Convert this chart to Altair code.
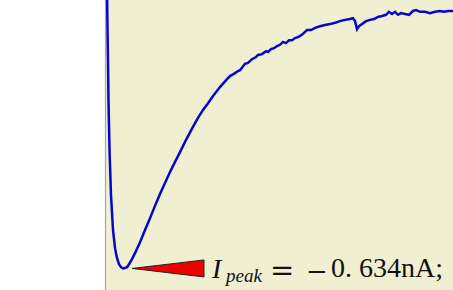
import altair as alt
import pandas as pd

# Time (ms) and current (nA)
time_ms = [0.29, 0.36, 0.43, 0.50, 0.65, 0.86, 1.15, 1.44, 1.72, 2.01, 2.30, 2.59,
           2.87, 3.16, 3.45, 3.88, 4.45, 5.03, 5.75, 6.47, 7.18, 7.90, 8.62, 9.34,
           10.06, 10.78, 11.64, 12.64, 13.36, 14.08, 14.80, 15.52, 16.52, 17.53,
           17.96, 18.68, 19.11, 19.40, 20.11, 20.55, 21.12, 21.70, 21.98, 22.56,
           23.13, 23.42, 23.85, 24.28, 24.71, 25.14, 25.57, 26.01, 26.44, 26.87,
           27.30, 27.73, 28.02, 28.45, 29.02, 29.60, 30.17, 30.89, 31.61, 32.33,
           33.05, 33.76, 34.48, 35.20, 35.63, 35.92, 36.21, 36.49, 36.93, 37.50,
           38.07, 38.65, 39.22, 39.80, 40.37, 40.80, 41.24, 41.67, 42.10, 42.53,
           43.10, 43.68, 44.25, 44.68, 45.26, 45.98, 46.70, 47.41, 48.13, 48.71,
           49.28, 50.00]
current_nA = [0.024, -0.071, -0.142, -0.237, -0.355, -0.461, -0.544, -0.587, -0.610, -0.625,
              -0.632, -0.635, -0.634, -0.632, -0.625, -0.613, -0.594, -0.573, -0.544, -0.516,
              -0.487, -0.459, -0.433, -0.407, -0.383, -0.360, -0.331, -0.300, -0.279, -0.260,
              -0.244, -0.227, -0.206, -0.187,
              -0.180, -0.173, -0.168, -0.166, -0.151, -0.149, -0.140, -0.135, -0.130, -0.128,
              -0.121, -0.123, -0.116, -0.114, -0.109, -0.106, -0.099, -0.102, -0.095, -0.095,
              -0.090, -0.088, -0.085, -0.080, -0.071, -0.071, -0.066, -0.062, -0.059, -0.057,
              -0.054, -0.050, -0.047, -0.045, -0.043, -0.050, -0.069, -0.062, -0.057, -0.050,
              -0.047, -0.045, -0.040, -0.038, -0.035, -0.028, -0.033, -0.028, -0.035, -0.031,
              -0.033, -0.035, -0.026, -0.024, -0.028, -0.028, -0.031, -0.028, -0.026, -0.028,
              -0.026, -0.026]

peak_t = 2.59
peak_nA = -0.634
label_parts = ["I", "peak", "=", "\u2212", "0. 634nA;"]

x_scale = alt.Scale(domain=[0, 50], nice=False, zero=False)
y_scale = alt.Scale(domain=[-0.686, 0], nice=False, zero=False)

df = pd.DataFrame({"t": time_ms, "i": current_nA})

line = alt.Chart(df).mark_line(color="#0505cc", strokeWidth=2.5, clip=True).encode(
    x=alt.X("t:Q", scale=x_scale, axis=None),
    y=alt.Y("i:Q", scale=y_scale, axis=None),
)

tri_df = pd.DataFrame({
    "t": [peak_t + 1.29, peak_t + 11.63],
    "lo": [peak_nA - 0.001, peak_nA - 0.0211],
    "hi": [peak_nA - 0.001, peak_nA + 0.0191],
})
triangle = alt.Chart(tri_df).mark_area(color="#ee0000", stroke="#222222", strokeWidth=1,
                                       interpolate="linear").encode(
    x=alt.X("t:Q", scale=x_scale, axis=None),
    y=alt.Y("lo:Q", scale=y_scale, axis=None),
    y2="hi:Q",
)

border = alt.Chart(pd.DataFrame({"a": [0]})).mark_rule(color="#a8a8a0", strokeWidth=1.2).encode(
    x=alt.value(0.5), y=alt.value(0), y2=alt.value(290)
)

def txt(s, x, y, size, font, style="normal"):
    return alt.Chart(pd.DataFrame({"s": [s]})).mark_text(
        align="left", baseline="alphabetic", font=font, fontSize=size,
        fontStyle=style, color="#111111"
    ).encode(text="s:N", x=alt.value(x), y=alt.value(y))

texts = [
    txt(label_parts[0], 107, 278, 28, "Liberation Serif", "italic"),
    txt(label_parts[1], 121, 282, 19, "Liberation Serif", "italic"),
    txt(label_parts[2], 165, 280, 29, "DejaVu Serif"),
    txt(label_parts[3], 201, 280, 26, "DejaVu Serif"),
    txt(label_parts[4], 226, 277, 28, "Liberation Serif"),
]

chart = alt.layer(border, line, triangle, *texts).properties(
    width=348, height=290,
    padding={"left": 105, "top": 0, "right": 0, "bottom": 0},
    autosize=alt.AutoSizeParams(type="none"),
    background="white",
).configure_view(fill="#f1efd1", stroke=None)

chart.save("out.html", embed_options={"renderer": "svg", "actions": False})
